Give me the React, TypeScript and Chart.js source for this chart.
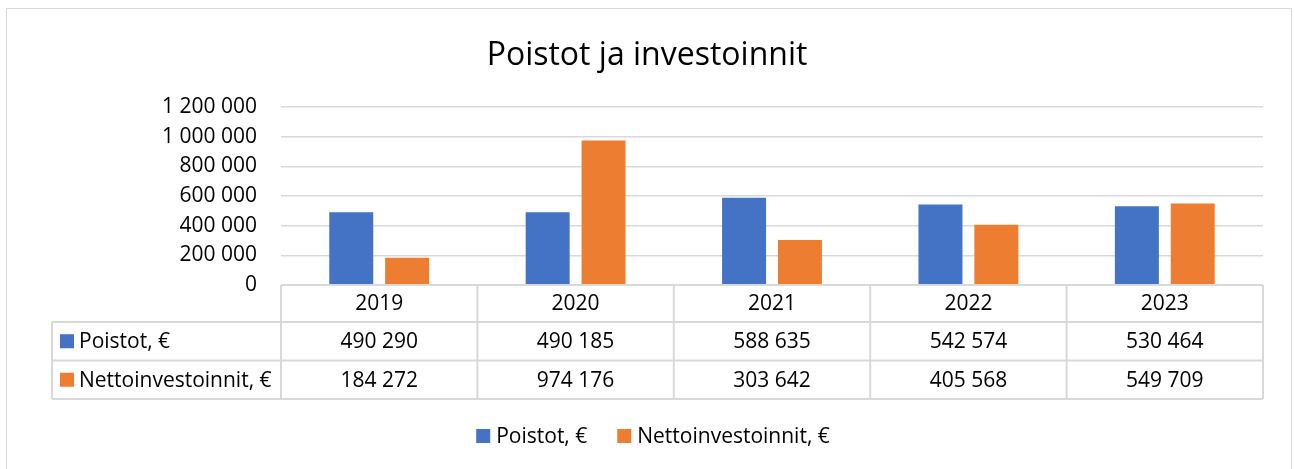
import { useEffect, useRef } from "react";
import { Chart, registerables } from "chart.js";

Chart.register(...registerables);

const chartTitle = "Poistot ja investoinnit";
const categories = ["2019", "2020", "2021", "2022", "2023"];
const seriesNames = ["Poistot, €", "Nettoinvestoinnit, €"];
const poistot = [490290, 490185, 588635, 542574, 530464];
const nettoinvestoinnit = [184272, 974176, 303642, 405568, 549709];
const seriesColors = ["#4472C4", "#ED7D31"];
const yMin = 0;
const yMax = 1200000;
const yStep = 200000;

const FONT = "'Open Sans', Lato, sans-serif";
const TEXT = "#000000";
const LINE = "#d9d9d9";
const FS = 21;

const fmt = (n: number) =>
  String(Math.round(n)).replace(/\B(?=(\d{3})+(?!\d))/g, " ");

const extrasPlugin = {
  id: "excelExtras",
  afterDraw(chart: any) {
    const ctx: CanvasRenderingContext2D = chart.ctx;
    const area = chart.chartArea;
    const xs = chart.scales.x;
    const ys = chart.scales.y;
    const n = categories.length;
    const colW = (area.right - area.left) / n;
    const top = ys.getPixelForValue(0);
    const hdrB = top + 37;
    const r1B = hdrB + 38.5;
    const r2B = r1B + 38.5;
    const tableLeft = 52;
    const rowData = [poistot, nettoinvestoinnit];

    ctx.save();
    // outer border
    ctx.strokeStyle = LINE;
    ctx.lineWidth = 1;
    ctx.strokeRect(6.5, 8.5, 1285, 520);

    // title
    ctx.fillStyle = TEXT;
    ctx.font = `32px ${FONT}`;
    ctx.textAlign = "center";
    ctx.textBaseline = "alphabetic";
    ctx.fillText(chartTitle, 647, 65);

    // table lines
    ctx.strokeStyle = LINE;
    ctx.lineWidth = 2;
    ctx.beginPath();
    ctx.moveTo(area.left, top);
    ctx.lineTo(area.right, top);
    ctx.moveTo(tableLeft, hdrB);
    ctx.lineTo(area.right, hdrB);
    ctx.moveTo(tableLeft, r1B);
    ctx.lineTo(area.right, r1B);
    ctx.moveTo(tableLeft, r2B);
    ctx.lineTo(area.right, r2B);
    ctx.moveTo(tableLeft, hdrB);
    ctx.lineTo(tableLeft, r2B);
    for (let i = 0; i <= n; i++) {
      const x = area.left + i * colW;
      ctx.moveTo(x, top);
      ctx.lineTo(x, r2B);
    }
    ctx.stroke();

    // table text
    ctx.font = `${FS}px ${FONT}`;
    ctx.fillStyle = TEXT;
    ctx.textAlign = "center";
    ctx.textBaseline = "middle";
    categories.forEach((c, i) => {
      const cx = xs.getPixelForValue(i);
      ctx.fillText(c, cx, (top + hdrB) / 2 + 1);
      ctx.fillText(fmt(rowData[0][i]), cx, (hdrB + r1B) / 2 + 1);
      ctx.fillText(fmt(rowData[1][i]), cx, (r1B + r2B) / 2 + 1);
    });
    const rowCenters = [(hdrB + r1B) / 2, (r1B + r2B) / 2];
    seriesNames.forEach((name, k) => {
      const cy = rowCenters[k];
      ctx.fillStyle = seriesColors[k];
      ctx.fillRect(60, cy - 7, 14, 14);
      ctx.fillStyle = TEXT;
      ctx.textAlign = "left";
      ctx.fillText(name, 79, cy + 1);
    });

    // bottom legend
    const box = 14;
    const gapBoxText = 6;
    const gapItems = 30;
    const widths = seriesNames.map((s) => ctx.measureText(s).width);
    const total =
      widths.reduce((a, b) => a + b, 0) + seriesNames.length * (box + gapBoxText) + gapItems;
    let lx = 653 - total / 2;
    const ly = 436;
    seriesNames.forEach((name, k) => {
      ctx.fillStyle = seriesColors[k];
      ctx.fillRect(lx, ly - 7, box, box);
      ctx.fillStyle = TEXT;
      ctx.textAlign = "left";
      ctx.fillText(name, lx + box + gapBoxText, ly + 1);
      lx += box + gapBoxText + widths[k] + gapItems;
    });
    ctx.restore();
  },
};

export default function App() {
  const ref = useRef<HTMLCanvasElement | null>(null);

  useEffect(() => {
    if (!ref.current) return;
    const chart = new Chart(ref.current, {
      type: "bar",
      data: {
        labels: categories,
        datasets: [
          {
            label: seriesNames[0],
            data: poistot,
            backgroundColor: seriesColors[0],
            categoryPercentage: 0.569,
            barPercentage: 0.787,
          },
          {
            label: seriesNames[1],
            data: nettoinvestoinnit,
            backgroundColor: seriesColors[1],
            categoryPercentage: 0.569,
            barPercentage: 0.787,
          },
        ],
      },
      options: {
        animation: false,
        responsive: false,
        devicePixelRatio: 1,
        layout: { padding: { top: 107, right: 32, bottom: 184, left: 0 } },
        plugins: {
          legend: { display: false },
          title: { display: false },
          tooltip: { enabled: false },
        },
        scales: {
          x: {
            display: false,
            grid: { display: false },
          },
          y: {
            min: yMin,
            max: yMax,
            border: { display: false },
            grid: { color: LINE, lineWidth: 1.5, drawTicks: false },
            ticks: {
              stepSize: yStep,
              padding: 24,
              color: TEXT,
              font: { family: FONT, size: FS },
              callback: (v: any) => fmt(Number(v)),
            },
            afterFit: (scale: any) => {
              scale.width = 281;
            },
          },
        },
      },
      plugins: [extrasPlugin],
    });
    return () => chart.destroy();
  }, []);

  return (
    <div style={{ position: "absolute", left: 0, top: 0, width: 1295, height: 469, background: "#fff" }}>
      <canvas ref={ref} width={1295} height={469} style={{ display: "block" }} />
    </div>
  );
}
